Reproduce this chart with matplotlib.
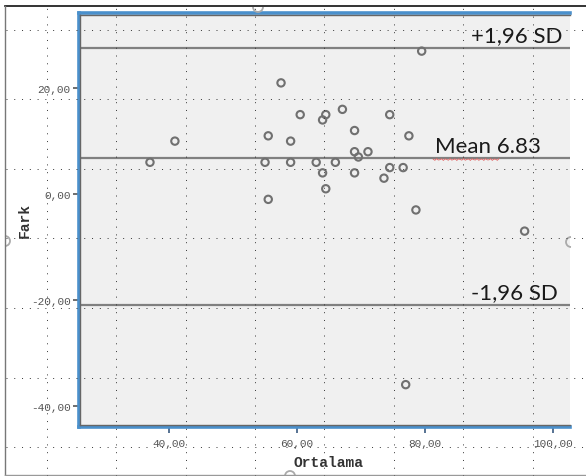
import numpy as np
import matplotlib
matplotlib.use("Agg")
import matplotlib.pyplot as plt
from matplotlib.patches import Arc

# Bland-Altman data
ortalama = [37.0, 40.9, 57.5, 60.5, 64.5, 64.0, 67.1, 55.5, 59.0, 55.0,
            59.0, 63.0, 66.0, 64.0, 64.5, 55.5, 79.5, 74.5, 69.0, 77.5,
            69.0, 69.6, 71.1, 74.5, 76.6, 69.0, 73.6, 78.6, 95.6, 77.0]
fark = [6.0, 10.0, 21.0, 15.0, 15.0, 14.0, 16.0, 11.0, 10.0, 6.0,
        6.0, 6.0, 6.0, 4.0, 1.0, -1.0, 27.0, 15.0, 12.0, 11.0,
        8.0, 7.0, 8.0, 5.0, 5.0, 4.0, 3.0, -3.0, -7.0, -36.0]
mean_diff = 6.83
upper_sd = 27.6
lower_sd = -20.9
ref_lines = [upper_sd, mean_diff, lower_sd]
ref_labels = ["+1,96 SD", "Mean 6.83", "-1,96 SD"]
xticks = [40, 60, 80, 100]
yticks = [20, 0, -20, -40]

W, H = 586, 477
fig = plt.figure(figsize=(W / 100, H / 100), dpi=100)
fig.patch.set_facecolor("white")

# plot area in pixel box
L, R, T, B = 79, 570, 14, 428
ax = fig.add_axes([L / W, 1 - B / H, (R - L) / W, (B - T) / H])
ax.set_facecolor("#f0f0f0")
ax.set_xlim(25.9, 102.7)
ax.set_ylim(-44.0, 34.2)

for val in ref_lines:
    ax.axhline(val, color="#808080", lw=1.6, zorder=2)

ax.scatter(ortalama, fark, s=28, facecolors="none", edgecolors="#707070",
           linewidths=1.5, zorder=3)

# labels on the reference lines
txt_kw = dict(family="Lato", fontsize=16, color="#1a1a1a", zorder=4)
ax.text(101.5, upper_sd + 0.5, ref_labels[0], ha="right", va="bottom", **txt_kw)
ax.text(98.2, mean_diff + 0.4, ref_labels[1], ha="right", va="bottom", **txt_kw)
ax.text(100.8, lower_sd + 0.5, ref_labels[2], ha="right", va="bottom", **txt_kw)
# red spell-check squiggle under "Mean"
xs = np.linspace(81.3, 91.6, 40)
ax.plot(xs, mean_diff - 0.3 + 0.18 * np.sin(xs * 9), color="#e06060", lw=0.6, zorder=4)

# spines: blue frame with grey inner line
for side in ["left", "top", "bottom"]:
    ax.spines[side].set_color("#4a90cc")
    ax.spines[side].set_linewidth(2.6)
ax.spines["right"].set_visible(False)
ax.plot([0.003, 0.003], [0.004, 0.995], transform=ax.transAxes, color="#666666",
        lw=1.0, clip_on=False, zorder=5)
ax.plot([0.003, 1.0], [0.996, 0.996], transform=ax.transAxes, color="#666666",
        lw=1.0, clip_on=False, zorder=5)
ax.plot([0.003, 1.0], [0.005, 0.005], transform=ax.transAxes, color="#666666",
        lw=1.0, clip_on=False, zorder=5)

ax.set_xticks(xticks)
ax.set_xticklabels([f"{v},00" for v in xticks])
ax.set_yticks(yticks)
ax.set_yticklabels([f"{v},00" for v in yticks])
ax.tick_params(axis="both", direction="out", length=4, width=1.2,
               colors="#555555", labelsize=8, pad=2)
ax.tick_params(axis="x", color="#3a5a80", pad=4)
for lab in ax.get_xticklabels() + ax.get_yticklabels():
    lab.set_family("Liberation Mono")
    lab.set_color("#555555")

fig.text(25 / W, 1 - 220 / H, "Fark", rotation=90, ha="center", va="center",
         family="Liberation Mono", fontweight="bold", fontsize=10.5, color="#333333")
fig.text(328 / W, 1 - 463 / H, "Ortalama", ha="center", va="center",
         family="Liberation Mono", fontweight="bold", fontsize=10.5, color="#333333")

# window frame around the chart
fig.add_artist(plt.Line2D([4.5 / W, 1.0], [1 - 7.3 / H, 1 - 7.3 / H],
                          color="#111111", lw=1.2))
fig.add_artist(plt.Line2D([5 / W, 5 / W], [1 - 7.3 / H, 1 - 476 / H],
                          color="#777777", lw=1.0))
fig.add_artist(plt.Line2D([5 / W, 1.0], [1 - 476 / H, 1 - 476 / H],
                          color="#999999", lw=1.0))

# resize handles of the chart editor
for cx, cy, t1, t2 in [(258, 8, 180, 360), (5, 242, 270, 90),
                       (290, 477, 0, 180), (571, 243, 90, 270)]:
    fig.add_artist(Arc((cx / W, 1 - cy / H), 10 / W, 10 / H, theta1=t1, theta2=t2,
                       color="#aaaaaa", lw=1.3, transform=fig.transFigure))

# dotted drawing-grid overlay
dot_kw = dict(color="#333333", lw=0.7, linestyle=(0, (1, 7)), zorder=10)
for gx in np.arange(46.7, W, 69.4):
    fig.add_artist(plt.Line2D([gx / W, gx / W], [0, 1 - 8 / H], **dot_kw))
for gy in np.arange(30.5, H - 20, 69.6):
    fig.add_artist(plt.Line2D([6 / W, 1], [1 - gy / H, 1 - gy / H], **dot_kw))

fig.savefig("out.png", dpi=100, facecolor="white")
